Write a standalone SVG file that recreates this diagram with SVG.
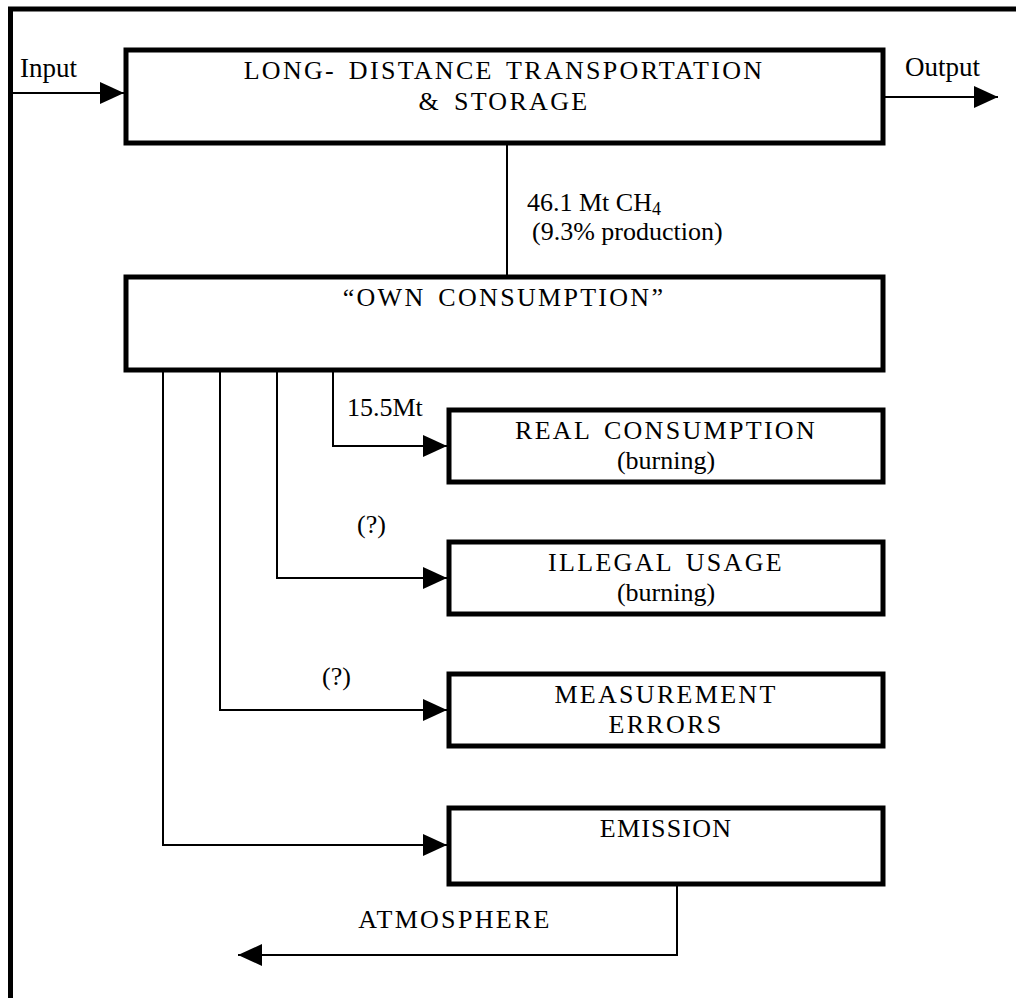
<svg xmlns="http://www.w3.org/2000/svg" width="1016" height="998" viewBox="0 0 1016 998">
<style>
.box{fill:#fff;stroke:#000;stroke-width:5}
.frame{fill:none;stroke:#000;stroke-width:5}
.con{fill:none;stroke:#000;stroke-width:2}
.t{font-family:'Liberation Serif','DejaVu Serif',serif;font-size:26px;fill:#000}
.cap{letter-spacing:2.3px;word-spacing:4px}
.mid{text-anchor:middle}
</style>
<defs>
<marker id="ah" markerUnits="userSpaceOnUse" viewBox="0 0 24 22" refX="24" refY="11" markerWidth="24" markerHeight="22" orient="auto">
<path d="M0,0 L24,11 L0,22 z" fill="#000"/>
</marker>
</defs>
<rect width="1016" height="998" fill="#fff"/>
<path class="frame" d="M10.5,998 V9 H1016"/>
<g id="connectors">
<path class="con" d="M10,93 H124" marker-end="url(#ah)"/>
<path class="con" d="M885,97 H998" marker-end="url(#ah)"/>
<path class="con" d="M507,145 V275"/>
<path class="con" d="M333,371 V446 H447" marker-end="url(#ah)"/>
<path class="con" d="M277,371 V578 H447" marker-end="url(#ah)"/>
<path class="con" d="M220,371 V710 H447" marker-end="url(#ah)"/>
<path class="con" d="M163,371 V845 H447" marker-end="url(#ah)"/>
<path class="con" d="M677,886 V955 H238" marker-end="url(#ah)"/>
</g>
<g id="labels" class="t">
<text x="20" y="77" font-size="27">Input</text>
<text x="905" y="76" font-size="27">Output</text>
<text x="527" y="211">46.1 Mt CH<tspan font-size="18" dy="4">4</tspan></text>
<text x="532" y="240">(9.3% production)</text>
<text x="347" y="416">15.5Mt</text>
<text x="357" y="533">(?)</text>
<text x="322" y="685">(?)</text>
<text class="cap mid" x="455" y="928">ATMOSPHERE</text>
</g>
<g id="node-transport" class="t">
<rect class="box" x="126" y="50" width="757" height="93"/>
<text class="cap mid" x="504" y="79">LONG- DISTANCE TRANSPORTATION</text>
<text class="cap mid" x="504" y="110">&amp; STORAGE</text>
</g>
<g id="node-own" class="t">
<rect class="box" x="126" y="277" width="757" height="93"/>
<text class="cap mid" x="504" y="306">“OWN CONSUMPTION”</text>
</g>
<g id="node-real" class="t">
<rect class="box" x="449" y="410" width="434" height="72"/>
<text class="cap mid" x="666" y="439">REAL CONSUMPTION</text>
<text class="mid" x="666" y="469">(burning)</text>
</g>
<g id="node-illegal" class="t">
<rect class="box" x="449" y="542" width="434" height="72"/>
<text class="cap mid" x="666" y="571">ILLEGAL USAGE</text>
<text class="mid" x="666" y="601">(burning)</text>
</g>
<g id="node-measure" class="t">
<rect class="box" x="449" y="674" width="434" height="72"/>
<text class="cap mid" x="666" y="703">MEASUREMENT</text>
<text class="cap mid" x="666" y="733">ERRORS</text>
</g>
<g id="node-emission" class="t">
<rect class="box" x="449" y="808" width="434" height="76"/>
<text class="cap mid" x="666" y="837" style="letter-spacing:1.2px">EMISSION</text>
</g>
</svg>
